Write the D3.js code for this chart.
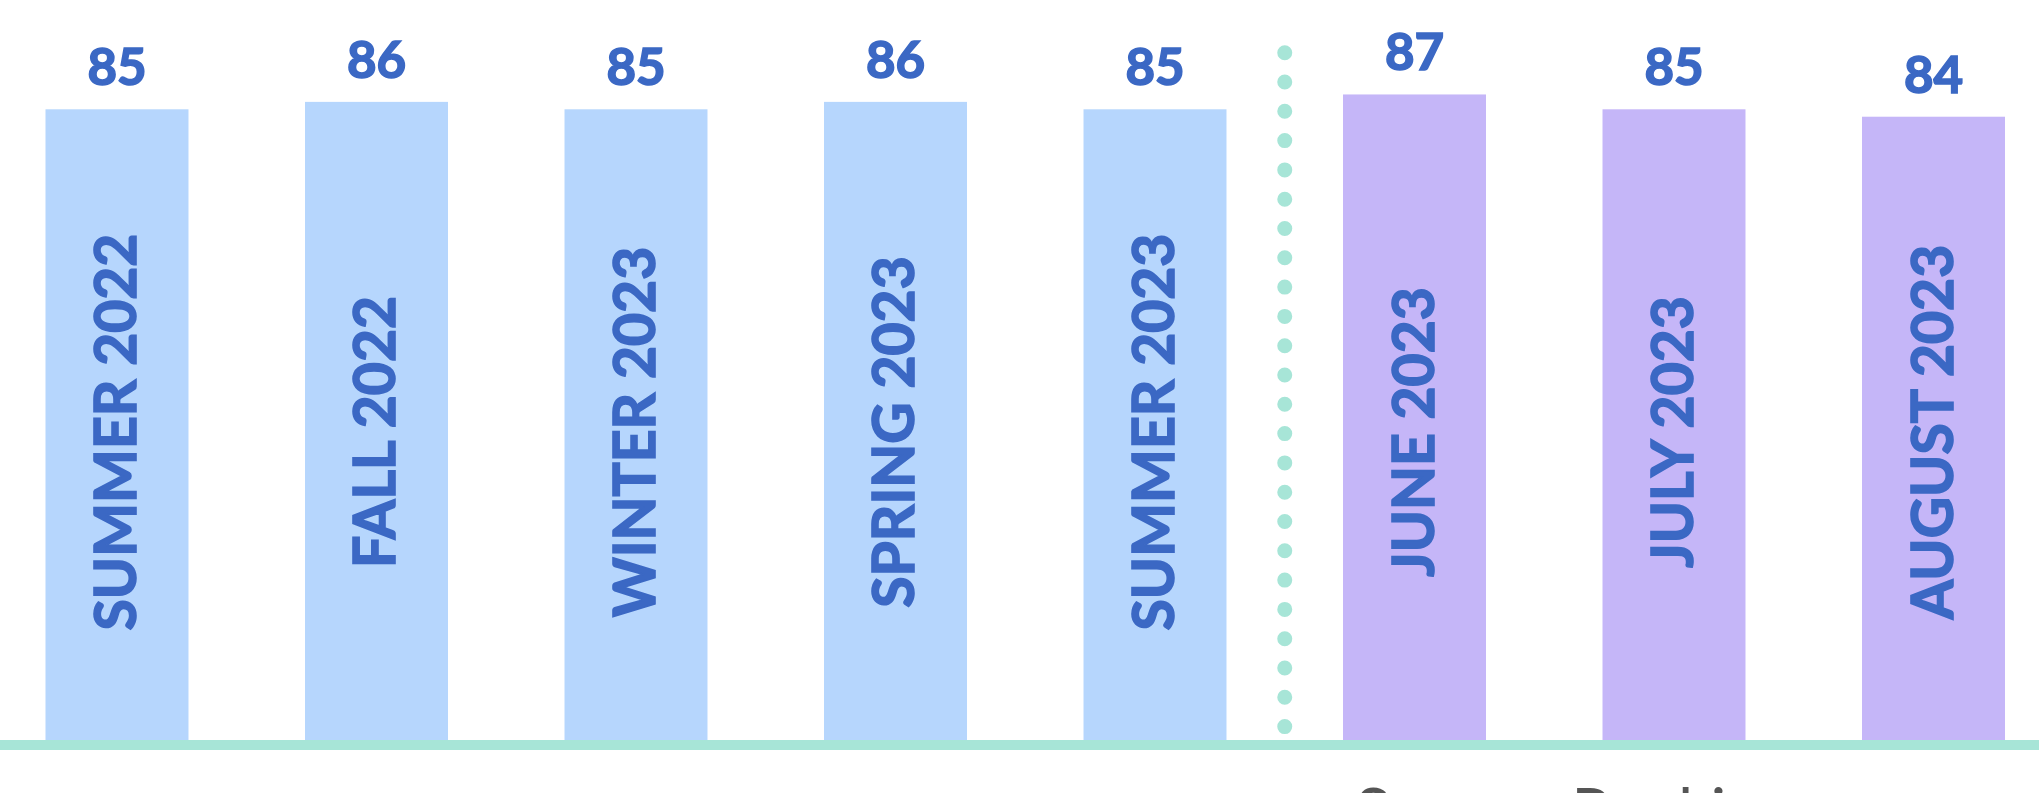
<!DOCTYPE html>
<html>
<head>
<meta charset="utf-8">
<script src="https://cdn.jsdelivr.net/npm/d3@7"></script>
<style>
  html, body { margin: 0; padding: 0; background: #ffffff; overflow: hidden; }
  svg { display: block; }
</style>
</head>
<body>
<div id="chart"></div>
<script>
// Data
const categories = ['SUMMER 2022', 'FALL 2022', 'WINTER 2023', 'SPRING 2023', 'SUMMER 2023', 'JUNE 2023', 'JULY 2023', 'AUGUST 2023'];
const values = [85, 86, 85, 86, 85, 87, 85, 84];
const periods = ['season', 'season', 'season', 'season', 'season', 'month', 'month', 'month'];
const periodColors = {season: '#b6d6fd', month: '#c5b6f8'};
const footerTitle = 'Season Rankings';

const W = 2039, H = 793;
const baseY = 740;
const textColor = '#3b68c4';
const mint = '#a7e5d7';

const svg = d3.select('#chart')
    .append('svg')
    .attr('width', W)
    .attr('height', H);

// Scales
const x = d3.scaleBand()
    .domain(categories)
    .range([45.5, 2005])
    .paddingInner(0.449)
    .paddingOuter(0);

const y = d3.scaleLinear()
    .domain([0, 100])
    .range([baseY, -2]);

// Bars
svg.selectAll('.bar')
    .data(values)
    .enter()
    .append('rect')
    .attr('class', 'bar')
    .attr('x', (d, i) => x(categories[i]))
    .attr('y', d => y(d))
    .attr('width', x.bandwidth())
    .attr('height', d => baseY - y(d))
    .attr('fill', (d, i) => periodColors[periods[i]]);

// Value labels (a thin stroke makes the bold face a bit heavier)
svg.selectAll('.value-label')
    .data(values)
    .enter()
    .append('text')
    .attr('class', 'value-label')
    .attr('x', (d, i) => x(categories[i]) + x.bandwidth() / 2)
    .attr('y', d => y(d) - 24)
    .attr('text-anchor', 'middle')
    .style('font-family', 'Lato, sans-serif')
    .style('font-weight', 700)
    .style('font-size', '51px')
    .attr('fill', textColor)
    .attr('stroke', textColor)
    .attr('stroke-width', 1.6)
    .text(d => d);

// Category labels inside the bars (rotated)
svg.selectAll('.cat-label')
    .data(categories)
    .enter()
    .append('text')
    .attr('class', 'cat-label')
    .attr('transform', d => `translate(${x(d) + x.bandwidth() / 2 - 3},432) rotate(-90)`)
    .attr('text-anchor', 'middle')
    .attr('dominant-baseline', 'central')
    .style('font-family', 'Lato, sans-serif')
    .style('font-weight', 700)
    .style('font-size', '57px')
    .attr('fill', textColor)
    .attr('stroke', textColor)
    .attr('stroke-width', 1.6)
    .text(d => d);

// Dotted divider between seasons and months
const lastSeason = categories[periods.lastIndexOf('season')];
const firstMonth = categories[periods.indexOf('month')];
const divX = (x(lastSeason) + x.bandwidth() + x(firstMonth)) / 2;
svg.append('line')
    .attr('x1', divX)
    .attr('x2', divX)
    .attr('y1', 52.7)
    .attr('y2', 727)
    .attr('stroke', mint)
    .attr('stroke-width', 15)
    .attr('stroke-linecap', 'round')
    .attr('stroke-dasharray', '0 29.3');

// Baseline
svg.append('rect')
    .attr('x', 0)
    .attr('y', baseY)
    .attr('width', W)
    .attr('height', 10)
    .attr('fill', mint);

// Footer title (cut off by the bottom edge, as in the source)
svg.append('text')
    .attr('x', 1355)
    .attr('y', 834)
    .style('font-family', 'Lato, sans-serif')
    .style('font-weight', 400)
    .style('font-size', '64px')
    .attr('fill', '#555')
    .text(footerTitle);
</script>
</body>
</html>
